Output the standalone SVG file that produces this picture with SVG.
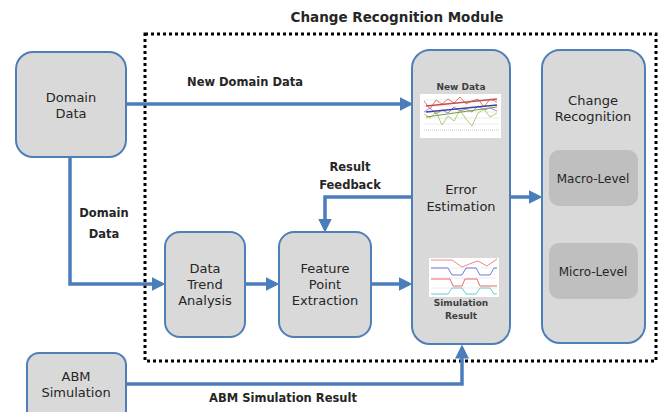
<svg xmlns="http://www.w3.org/2000/svg" width="659" height="412" viewBox="0 0 659 412">
<style>
.box{fill:#d9d9d9;stroke:#4f7fb8;stroke-width:2}
.inner{fill:#bfbfbf;stroke:none}
.t{font-family:"DejaVu Sans","Noto Sans",sans-serif;font-size:13px;fill:#262626;text-anchor:middle}
.b{font-family:"DejaVu Sans","Noto Sans",sans-serif;font-size:11.5px;font-weight:bold;fill:#262626;text-anchor:middle}
.s{font-family:"DejaVu Sans","Noto Sans",sans-serif;font-size:9px;font-weight:bold;fill:#404040;text-anchor:middle}
.ln{fill:none;stroke:#4a7ebb;stroke-width:3.5}
.dot{fill:none;stroke:#000;stroke-width:3;stroke-dasharray:3 3}
</style>
<defs>
<marker id="ah" markerWidth="4" markerHeight="4" refX="3" refY="2" orient="auto" markerUnits="strokeWidth" viewBox="0 0 4 4">
<path d="M0,0 L4,2 L0,4 z" fill="#4a7ebb"/>
</marker>
</defs>
<rect width="659" height="412" fill="#fff"/>
<text class="b" x="397" y="22" style="font-size:13.5px">Change Recognition Module</text>
<rect class="dot" x="145" y="34" width="511" height="327"/>

<g id="connectors">
<path class="ln" d="M126,104 H410" marker-end="url(#ah)"/>
<path class="ln" d="M70,157 V284 H162" marker-end="url(#ah)"/>
<path class="ln" d="M245,284 H276" marker-end="url(#ah)"/>
<path class="ln" d="M371,284 H409" marker-end="url(#ah)"/>
<path class="ln" d="M412,197 H325 V229" marker-end="url(#ah)"/>
<path class="ln" d="M510,197 H539" marker-end="url(#ah)"/>
<path class="ln" d="M126,384 H462 V348" marker-end="url(#ah)"/>
<text class="b" x="245" y="86">New Domain Data</text>
<text class="b" x="104" y="217">Domain</text>
<text class="b" x="104" y="238">Data</text>
<text class="b" x="350" y="171">Result</text>
<text class="b" x="350" y="189">Feedback</text>
<text class="b" x="283" y="402">ABM Simulation Result</text>
</g>

<g id="domain-data">
<rect class="box" x="16" y="52" width="110" height="105" rx="17"/>
<text class="t" x="71" y="102">Domain</text>
<text class="t" x="71" y="118">Data</text>
</g>

<g id="data-trend-analysis">
<rect class="box" x="165" y="232" width="80" height="105" rx="15"/>
<text class="t" x="205" y="273">Data</text>
<text class="t" x="205" y="289">Trend</text>
<text class="t" x="205" y="305">Analysis</text>
</g>

<g id="feature-point-extraction">
<rect class="box" x="279" y="232" width="92" height="105" rx="15"/>
<text class="t" x="325" y="273">Feature</text>
<text class="t" x="325" y="289">Point</text>
<text class="t" x="325" y="305">Extraction</text>
</g>

<g id="abm-simulation">
<rect class="box" x="27" y="353" width="99" height="70" rx="12"/>
<text class="t" x="76" y="381">ABM</text>
<text class="t" x="76" y="397">Simulation</text>
</g>

<g id="error-estimation">
<rect class="box" x="412" y="50" width="98" height="294" rx="18"/>
<text class="s" x="461" y="90">New Data</text>
<rect x="420" y="94" width="81" height="44" fill="#fff"/>
<g fill="none" stroke-width="0.8">
<path d="M424,100 H499 M424,106 H499 M424,112 H499 M424,118 H499 M424,124 H499" stroke="#e6e6e6"/>
<polyline points="424,101 430,109 436,100 442,104 448,99 454,103 460,97 466,104 472,101 478,99 484,107 490,99 497,102" stroke="#d9534f"/>
<polyline points="426,106 497,99" stroke="#c0504d" stroke-width="1.5"/>
<polyline points="424,112 430,108 436,114 442,110 448,113 454,107 460,111 466,109 472,112 478,106 484,110 490,108 497,111" stroke="#7f6fd0"/>
<polyline points="426,112 497,105" stroke="#4040a0" stroke-width="1.5"/>
<polyline points="424,114 430,118 436,112 442,125 448,116 454,121 460,110 466,119 472,126 478,113 484,109 490,117 497,113" stroke="#9bbb59"/>
<polyline points="426,117 497,107" stroke="#7aa03a" stroke-width="1.2"/>
<path d="M424,130 H499" stroke="#bbb" stroke-dasharray="1 1"/>
</g>
<text class="t" x="461" y="194">Error</text>
<text class="t" x="461" y="211">Estimation</text>
<rect x="429" y="258" width="70" height="39" fill="#fff"/>
<g fill="none" stroke-width="1">
<path d="M431,268 H497 M431,278 H497 M431,288 H497" stroke="#ddd" stroke-width="0.6"/>
<polyline points="431,260 452,260 462,267 472,263 478,261 487,266 497,259" stroke="#e88"/>
<polyline points="431,268 448,268 452,275 462,275 466,268 476,268 480,275 490,275 494,268 497,268" stroke="#77d"/>
<polyline points="431,279 450,279 453,286 462,286 465,279 477,279 480,286 497,286" stroke="#e66"/>
<polyline points="431,294 448,294 452,288 462,288 466,294 476,294 480,288 490,288 494,294 497,294" stroke="#6cc"/>
</g>
<text class="s" x="461" y="306">Simulation</text>
<text class="s" x="461" y="319">Result</text>
</g>

<g id="change-recognition">
<rect class="box" x="542" y="50" width="103" height="293" rx="18"/>
<text class="t" x="593" y="105">Change</text>
<text class="t" x="593" y="121">Recognition</text>
<g id="macro-level">
<rect class="inner" x="549" y="150" width="89" height="56" rx="10"/>
<text class="t" x="593" y="183" style="font-size:12px">Macro-Level</text>
</g>
<g id="micro-level">
<rect class="inner" x="549" y="243" width="89" height="56" rx="10"/>
<text class="t" x="593" y="276" style="font-size:12px">Micro-Level</text>
</g>
</g>
</svg>
